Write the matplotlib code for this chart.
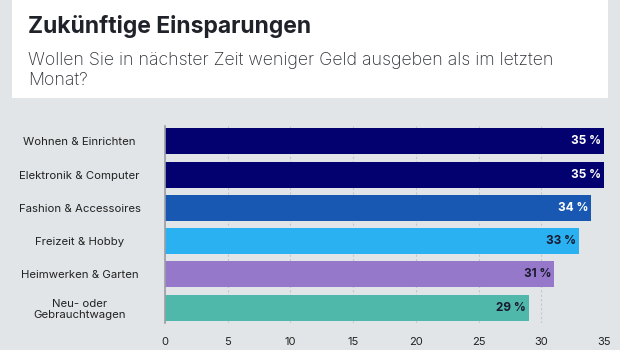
import matplotlib.pyplot as plt
from matplotlib.patches import Rectangle

# Daten
kategorien = ['Wohnen & Einrichten', 'Elektronik & Computer', 'Fashion & Accessoires',
              'Freizeit & Hobby', 'Heimwerken & Garten', 'Neu- oder\nGebrauchtwagen']
werte = [35, 35, 34, 33, 31, 29]
farben = ['#03006f', '#03006f', '#1858b2', '#29b1f2', '#9678cb', '#4fb8ab']
label_farben = ['white', 'white', 'white', '#1a1a2e', '#1a1a2e', '#1a1a2e']
xticks = [0, 5, 10, 15, 20, 25, 30, 35]

titel = 'Zukünftige Einsparungen'
untertitel = 'Wollen Sie in nächster Zeit weniger Geld ausgeben als im letzten\nMonat?'

plt.rcParams['font.family'] = ['Inter', 'DejaVu Sans']
bg = '#e2e5e8'

fig = plt.figure(figsize=(6.2, 3.5), dpi=100, facecolor=bg)

# weisser Kasten oben
fig.patches.append(Rectangle((12 / 620, 1 - 98 / 350), 596 / 620, 98 / 350,
                             transform=fig.transFigure, facecolor='white',
                             edgecolor='none', zorder=0))
fig.text(28 / 620, 1 - 33 / 350, titel, fontsize=16.5, fontweight='bold',
         color='#1f2229', va='baseline')
fig.text(28 / 620, 1 - 52 / 350, untertitel, fontsize=12.8, fontweight='light',
         color='#2e3036', va='top', linespacing=1.25)

ax = fig.add_axes([165 / 620, 1 - 323 / 350, 439 / 620, 197 / 350])
ax.set_facecolor(bg)
pos = list(range(len(kategorien)))
ax.barh(pos, werte, height=0.78, color=farben, zorder=3)

for p, w, c in zip(pos, werte, label_farben):
    ax.annotate(f'{w} %', xy=(w, p), xytext=(-2, 0), textcoords='offset points',
                ha='right', va='center', fontsize=8.5, fontweight='bold', color=c, zorder=4)

ax.set_xlim(0, 35)
ax.set_ylim(5.465, -0.465)
ax.set_xticks(xticks)
ax.set_yticks(pos, kategorien)
for t in ax.get_yticklabels():
    t.set_ha('center')
    t.set_multialignment('center')
ax.tick_params(axis='y', length=0, pad=61.5, labelsize=8.2, labelcolor='#222222')
ax.tick_params(axis='x', length=0, pad=10, labelsize=8, labelcolor='#222222')
ax.grid(axis='x', color='#c3c7cc', linestyle=(0, (2, 2)), linewidth=0.8, zorder=0)
for s in ['top', 'right', 'bottom']:
    ax.spines[s].set_visible(False)
ax.spines['left'].set_color('#9a9ea4')
ax.spines['left'].set_linewidth(1.2)
ax.spines['left'].set_zorder(5)

fig.savefig('out.png', dpi=100, facecolor=bg)
